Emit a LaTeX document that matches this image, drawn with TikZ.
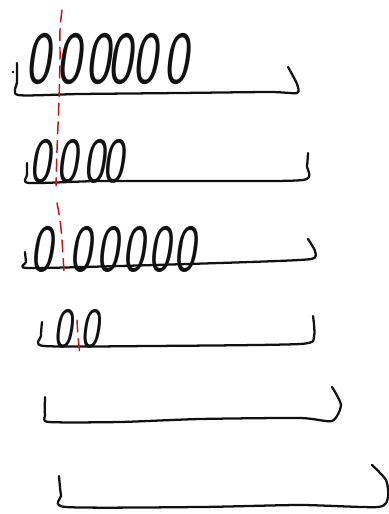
\documentclass[tikz,border=0pt]{standalone}
\usepackage{tikz}
\definecolor{InkBlack}{HTML}{111111}
\definecolor{CutRed}{HTML}{CC1111}

\tikzset{
  binline/.style={draw=InkBlack, line width=1.7pt, line cap=round, line join=round},
  zero/.style={font=\sffamily\fontsize{56}{56}\selectfont, text=InkBlack, inner sep=0pt, xscale=0.72, xslant=0.2},
  cutline/.style={draw=CutRed, line width=1.1pt, dash pattern=on 9pt off 5pt, line cap=round}
}

\begin{document}
\begin{tikzpicture}[x=0.75pt,y=0.75pt]
  \useasboundingbox (0,-514) rectangle (389,0);
  % bins
  \draw[binline] plot[smooth, tension=0.4] coordinates {(17,-63) (17,-82) (18,-95) (80,-94) (180,-93) (270,-92) (297,-93) (297,-84) (288,-67)};
  \draw[binline] plot[smooth, tension=0.4] coordinates {(27,-163) (27,-175) (29,-183) (100,-181) (200,-181) (303,-180) (307,-166) (308,-153)};
  \draw[binline] plot[smooth, tension=0.4] coordinates {(25,-252) (26,-262) (27,-268) (120,-266) (250,-262) (311,-259) (315,-251) (308,-239)};
  \draw[binline] plot[smooth, tension=0.4] coordinates {(42,-322) (41,-336) (44,-346) (150,-346) (300,-344) (314,-336) (313,-316)};
  \draw[binline] plot[smooth, tension=0.4] coordinates {(45,-397) (45,-415) (49,-422) (120,-422) (200,-419) (300,-418) (332,-421) (341,-405) (332,-387)};
  \draw[binline] plot[smooth, tension=0.4] coordinates {(59,-476) (61,-495) (66,-507) (200,-507) (300,-505) (378,-507) (388,-497) (386,-480) (372,-465)};
  \fill[InkBlack] (13,-72) circle (1pt);
  % zeros
  \foreach \x [count=\i] in {42,73,102,124,149,180}
    \node[zero] (r1z\i) at (\x,-59) {0};
  \foreach \x [count=\i] in {43,70,97,116}
    \node[zero, scale=0.86] (r2z\i) at (\x,-161) {0};
  \foreach \x [count=\i] in {45,84,111,137,163,188}
    \node[zero, scale=0.9] (r3z\i) at (\x,-249) {0};
  \foreach \x [count=\i] in {66,93}
    \node[zero, scale=0.76] (r4z\i) at (\x,-329) {0};
  % red cut
  \draw[cutline] plot[smooth] coordinates {(62,-10) (60,-30) (60,-60) (59,-100) (57,-150) (56,-186)};
  \draw[cutline] plot[smooth] coordinates {(57,-203) (60,-220) (62,-240) (64,-272)};
  \draw[cutline] plot[smooth] coordinates {(77,-320) (78,-336) (80,-355)};
\end{tikzpicture}
\end{document}
